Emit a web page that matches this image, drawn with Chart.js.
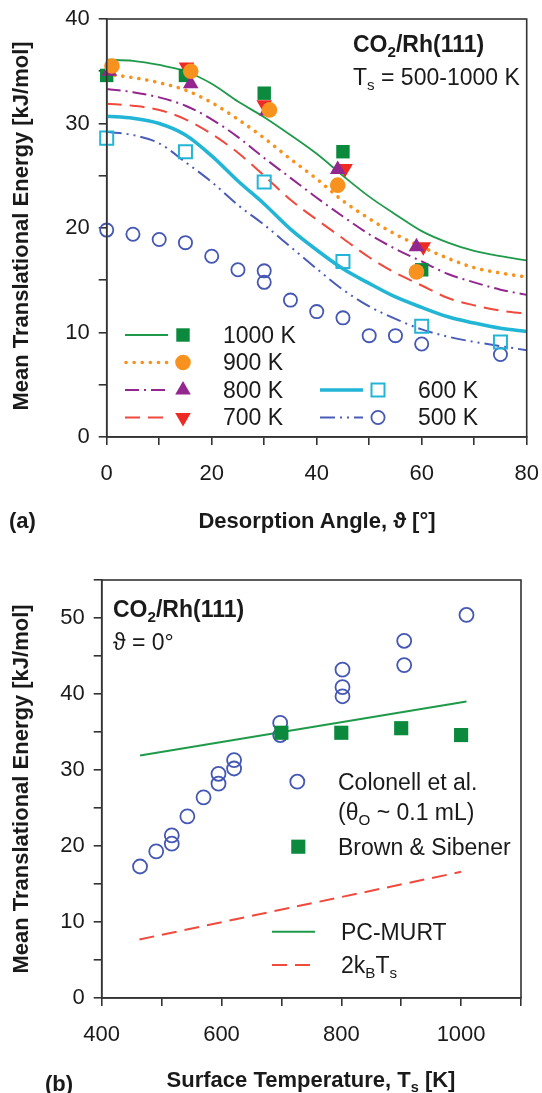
<!DOCTYPE html>
<html><head><meta charset="utf-8">
<script src="https://cdn.jsdelivr.net/npm/chart.js@4.4.1/dist/chart.umd.min.js"></script>
<style>
html,body{margin:0;padding:0;background:#fff;width:542px;height:1093px;overflow:hidden;}
body{position:relative;font-family:"Liberation Sans",Arial,sans-serif;color:#1a1a1a;}
canvas{position:absolute;left:0;}
.t{position:absolute;font-size:23px;line-height:26px;white-space:nowrap;}
.b{font-weight:bold;}
.ctr{transform:translateX(-50%);}
.yt{position:absolute;font-weight:bold;font-size:22px;line-height:26px;white-space:nowrap;transform:translate(-50%,-50%) rotate(-90deg);}
sub{font-size:0.66em;vertical-align:-0.35em;line-height:0;}
</style></head>
<body>
<canvas id="c1" width="542" height="540" style="top:0"></canvas>
<canvas id="c2" width="542" height="553" style="top:540px"></canvas>

<div class="t b" style="left:353px;top:31px">CO<sub>2</sub>/Rh(111)</div>
<div class="t" style="left:353px;top:64px">T<sub>s</sub> = 500-1000 K</div>
<div class="t" style="left:223px;top:322px">1000 K</div>
<div class="t" style="left:223px;top:349px">900 K</div>
<div class="t" style="left:223px;top:377px">800 K</div>
<div class="t" style="left:223px;top:404px">700 K</div>
<div class="t" style="left:418px;top:377px">600 K</div>
<div class="t" style="left:418px;top:404px">500 K</div>
<div class="t b" style="left:9px;top:508px;font-size:22px">(a)</div>
<div class="t b ctr" style="left:317px;top:508px;font-size:22px">Desorption Angle, ϑ [°]</div>
<div class="yt" style="left:21px;top:226px">Mean Translational Energy [kJ/mol]</div>

<div class="t b" style="left:113px;top:596px">CO<sub>2</sub>/Rh(111)</div>
<div class="t" style="left:113px;top:629px">ϑ = 0°</div>
<div class="t" style="left:338px;top:769px">Colonell et al.</div>
<div class="t" style="left:338px;top:799px">(θ<sub>O</sub> ~ 0.1 mL)</div>
<div class="t" style="left:338px;top:834px">Brown &amp; Sibener</div>
<div class="t" style="left:341px;top:919px">PC-MURT</div>
<div class="t" style="left:341px;top:952px">2k<sub>B</sub>T<sub>s</sub></div>
<div class="t b" style="left:45px;top:1071px;font-size:22px">(b)</div>
<div class="t b ctr" style="left:311px;top:1067px;font-size:22px">Surface Temperature, T<sub>s</sub> [K]</div>
<div class="yt" style="left:21px;top:789px">Mean Translational Energy [kJ/mol]</div>

<script>
// ---------- Panel (a) data ----------
const angleGrid = [0,5,10,15,20,25,30,35,40,45,50,55,60,65,70,75,80];
const fit1000 = [36.1,36.0,35.6,35.0,33.8,32.1,30.6,28.9,27.1,25.0,23.0,21.3,19.7,18.6,17.8,17.3,16.9];
const fit900  = [34.7,34.4,33.9,33.2,32.0,30.4,28.6,26.6,24.7,22.6,20.9,19.4,18.2,17.1,16.2,15.7,15.3];
const fit800  = [33.3,33.0,32.5,31.7,30.4,28.7,26.7,24.8,22.9,21.1,19.4,18.0,16.8,15.6,14.8,14.1,13.6];
const fit700  = [31.9,31.7,31.3,30.4,29.0,27.2,25.0,22.7,20.8,19.0,17.2,15.7,14.5,13.3,12.6,12.1,11.8];
const fit600  = [30.7,30.5,30.0,28.9,26.9,24.5,22.3,19.9,17.9,16.1,14.7,13.4,12.4,11.5,10.9,10.4,10.1];
const fit500  = [29.2,28.9,28.1,26.3,24.4,22.2,20.3,18.2,16.1,14.1,12.5,11.3,10.3,9.6,9.1,8.7,8.3];

const ang1000 = [0,15,30,45,60];
const exp1000 = [34.6,34.6,32.9,27.3,16.0];
const ang900  = [1,16,31,44,59];
const exp900  = [35.5,35.0,31.3,24.1,15.8];
const ang800  = [0.5,16,30.5,44,59];
const exp800  = [35.0,33.8,31.2,25.6,18.2];
const ang700  = [15.2,30,45.4,60.3];
const exp700  = [35.4,31.8,25.7,18.2];
const ang600  = [0,15,30,45,60,75];
const exp600  = [28.6,27.3,24.4,16.8,10.6,9.1];
const ang500  = [0,5,10,15,20,25,30,30,35,40,45,50,55,60,75];
const exp500  = [19.8,19.4,18.9,18.6,17.3,16.0,15.9,14.8,13.1,12.0,11.4,9.7,9.7,8.9,7.9];

const angleTicks = [0,20,40,60,80];
const energyTicksA = [0,10,20,30,40];

// ---------- Panel (b) data ----------
const tempColonell = [464,491,517,517,543,570,595,595,621,621,698,698,802,802,802,905,905,1009];
const energyColonell = [17.3,19.3,20.3,21.4,23.9,26.4,28.2,29.5,30.2,31.3,34.6,36.2,43.2,40.9,39.7,47.0,43.8,50.4];
const tempBrown = [700,800,900,1000];
const energyBrown = [34.9,34.9,35.5,34.6];
const tempMurt = [464,1009];
const energyMurt = [31.9,39.0];
const temp2kT = [463,1000];
const energy2kT = [7.7,16.6];
const tempTicks = [400,600,800,1000];
const energyTicksB = [0,10,20,30,40,50];

// ---------- helpers ----------
const pts = (xs, ys) => xs.map((x, i) => ({x, y: ys[i]}));
Chart.defaults.font.family = '"Liberation Sans", Arial, sans-serif';
Chart.defaults.font.size = 22;
Chart.defaults.color = '#1a1a1a';

const C = {
  green:'#0b8a3e', greenLine:'#1f9a4a', orange:'#f7921e', purple:'#93268f',
  red:'#ee2a24', redLine:'#f0493d', cyan:'#22b5d6', blue:'#4457b4', blueLine:'#4a5cb8'
};

function curve(data, color, width, dash, cap){
  return {type:'line', data, borderColor:color, borderWidth:width, borderDash:dash||[],
    borderCapStyle:cap||'butt', pointRadius:0, cubicInterpolationMode:'monotone', fill:false, order:20, clip:false};
}
function marks(data, style, radius, fill, stroke, bw, rot, order){
  return {type:'line', data, showLine:false, pointStyle:style, pointRadius:radius, pointRotation:rot||0,
    pointBackgroundColor:fill, pointBorderColor:stroke, pointBorderWidth:bw, order, clip:false};
}

const framePlugin = {
  id:'frame',
  afterDraw(chart){
    const {ctx, chartArea:a} = chart;
    ctx.save(); ctx.strokeStyle='#333'; ctx.lineWidth=1.6;
    ctx.strokeRect(a.left, a.top, a.right-a.left, a.bottom-a.top); ctx.restore();
  }
};
const sampleLegend = {
  id:'sampleLegend',
  afterDraw(chart, args, opts){
    const ctx = chart.ctx, dss = chart.data.datasets;
    (opts.items||[]).forEach(it => {
      ctx.save();
      if (it.line != null){
        const d = dss[it.line];
        ctx.strokeStyle = d.borderColor; ctx.lineWidth = d.borderWidth;
        ctx.setLineDash(d.borderDash||[]); ctx.lineCap = d.borderCapStyle||'butt';
        ctx.beginPath(); ctx.moveTo(it.x0, it.y); ctx.lineTo(it.x1, it.y); ctx.stroke();
        ctx.setLineDash([]);
      }
      if (it.mark != null){
        const d = dss[it.mark];
        ctx.fillStyle = d.pointBackgroundColor; ctx.strokeStyle = d.pointBorderColor;
        ctx.lineWidth = d.pointBorderWidth;
        Chart.helpers.drawPoint(ctx, {pointStyle:d.pointStyle, radius:d.pointRadius,
          rotation:d.pointRotation||0, borderWidth:d.pointBorderWidth}, it.mx, it.y);
      }
      ctx.restore();
    });
  }
};

function axis(min, max, step, labels, fitSize, horizontal){
  return {
    type:'linear', min, max,
    ticks:{stepSize:step, autoSkip:false, maxRotation:0, padding: horizontal?16:9,
      callback:(v)=> labels.includes(v) ? String(v) : '', color:'#1a1a1a', font:{size:22}},
    grid:{drawOnChartArea:false, drawTicks:true, tickLength:8, color:'#333', lineWidth:1.6},
    border:{display:true, color:'#333', width:1.6},
    afterFit:(s)=>{
      if (horizontal) s.height = fitSize; else s.width = fitSize;
      s.paddingLeft = 0; s.paddingRight = 0; s.paddingTop = 0; s.paddingBottom = 0;
    }
  };
}

// ---------- Chart (a) ----------
const dsA = [
  curve(pts(angleGrid, fit1000), C.greenLine, 1.8),
  curve(pts(angleGrid, fit900), C.orange, 3.6, [0.1, 8], 'round'),
  curve(pts(angleGrid, fit800), C.purple, 2, [14, 5, 2, 5]),
  curve(pts(angleGrid, fit700), C.redLine, 2, [15, 8]),
  curve(pts(angleGrid, fit600), C.cyan, 3.6),
  curve(pts(angleGrid, fit500), C.blueLine, 2, [15, 5, 2, 5, 2, 5]),
  marks(pts(ang1000, exp1000), 'rect', 9.5, C.green, C.green, 0, 0, 6),
  marks(pts(ang900, exp900), 'circle', 7.8, C.orange, C.orange, 0, 0, 1),
  marks(pts(ang800, exp800), 'triangle', 9, C.purple, C.purple, 0, 0, 5),
  marks(pts(ang700, exp700), 'triangle', 9, C.red, C.red, 0, 180, 7),
  marks(pts(ang600, exp600), 'rect', 9.2, 'rgba(0,0,0,0)', C.cyan, 2, 0, 8),
  marks(pts(ang500, exp500), 'circle', 6.6, 'rgba(0,0,0,0)', C.blue, 1.8, 0, 9)
];
new Chart(document.getElementById('c1'), {
  type:'line',
  data:{datasets:dsA},
  plugins:[framePlugin, sampleLegend],
  options:{
    responsive:false, animation:false, events:[],
    layout:{padding:{top:19, right:15.3, left:0, bottom:0}},
    scales:{
      x: axis(0, 80, 10, angleTicks, 103, true),
      y: axis(0, 40, 5, energyTicksA, 106.7, false)
    },
    plugins:{legend:{display:false}, tooltip:{enabled:false},
      sampleLegend:{items:[
        {line:0, mark:6, x0:125, x1:168, mx:183, y:335},
        {line:1, mark:7, x0:126, x1:168, mx:183, y:362.5},
        {line:2, mark:8, x0:125, x1:168, mx:183, y:390},
        {line:3, mark:9, x0:125, x1:168, mx:183, y:417.5},
        {line:4, mark:10, x0:320, x1:363, mx:378, y:390},
        {line:5, mark:11, x0:320, x1:363, mx:378, y:417.5}
      ]}}
  }
});

// ---------- Chart (b) ----------
const dsB = [
  marks(pts(tempColonell, energyColonell), 'circle', 7, 'rgba(0,0,0,0)', C.blue, 1.8, 0, 2),
  marks(pts(tempBrown, energyBrown), 'rect', 10, C.green, C.green, 0, 0, 1),
  {type:'line', data:pts(tempMurt, energyMurt), borderColor:C.greenLine, borderWidth:2, pointRadius:0, order:10},
  {type:'line', data:pts(temp2kT, energy2kT), borderColor:C.redLine, borderWidth:2, borderDash:[15,8], pointRadius:0, order:11}
];
new Chart(document.getElementById('c2'), {
  type:'line',
  data:{datasets:dsB},
  plugins:[framePlugin, sampleLegend],
  options:{
    responsive:false, animation:false, events:[],
    layout:{padding:{top:40, right:21, left:0, bottom:0}},
    scales:{
      x: axis(400, 1100, 100, tempTicks, 95, true),
      y: axis(0, 55, 5, energyTicksB, 101.7, false)
    },
    plugins:{legend:{display:false}, tooltip:{enabled:false},
      sampleLegend:{items:[
        {mark:0, mx:297.3, y:241.7},
        {mark:1, mx:298.3, y:306.7},
        {line:2, x0:272, x1:315, y:391.7},
        {line:3, x0:272, x1:311, y:425}
      ]}}
  }
});
</script>
</body></html>
